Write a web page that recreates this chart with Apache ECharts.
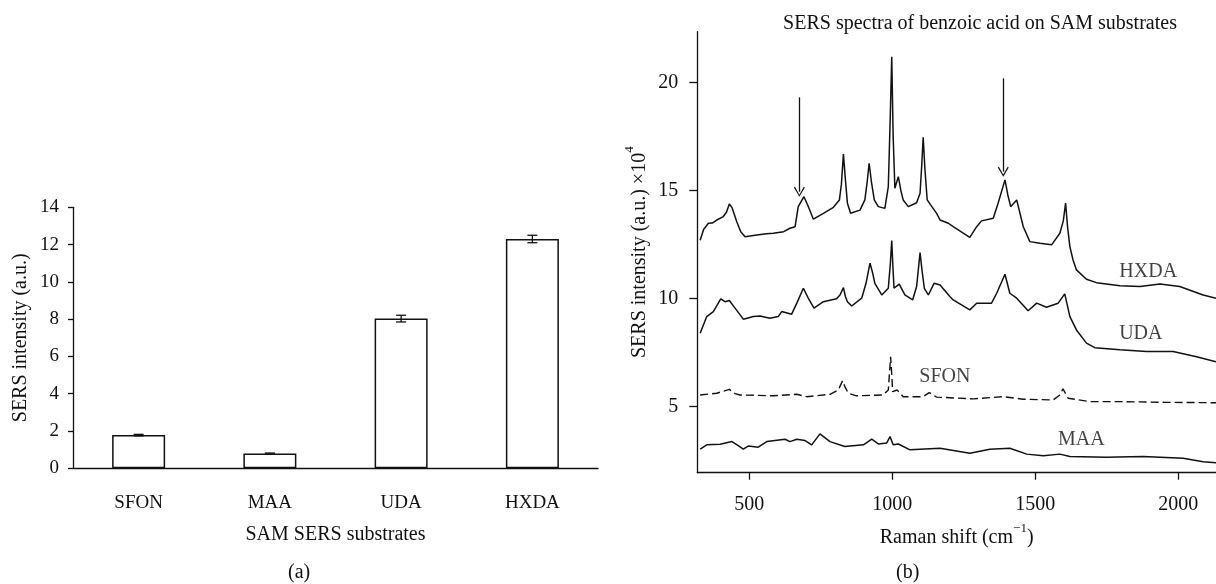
<!DOCTYPE html>
<html><head><meta charset="utf-8">
<script src="https://cdn.jsdelivr.net/npm/echarts@6/dist/echarts.min.js"></script>
<style>html,body{margin:0;padding:0;background:#fff}#c{width:1216px;height:584px}</style>
</head><body><div id="c"></div>
<script>
// ---------- panel (a): bar chart ----------
const substrates = ['SFON', 'MAA', 'UDA', 'HXDA'];
const barValues = [1.78, 0.79, 8.03, 12.3];
const barErrors = [0.04, 0.03, 0.18, 0.2];

// ---------- panel (b): SERS spectra [Raman shift, intensity x10^4] ----------
const hxdaSpectrum = [[328,12.7],[340,13.2],[357,13.49],[370,13.5],[386,13.64],[409,13.8],[420,14.0],[430,14.38],[440,14.2],[456,13.56],[470,13.1],[485,12.87],[526,12.95],[560,13.0],[584,13.03],[620,13.1],[642,13.26],[660,13.33],[671,14.26],[691,14.72],[705,14.3],[724,13.68],[759,13.95],[794,14.23],[815,14.57],[822,15.3],[829,16.69],[836,15.5],[843,14.42],[854,13.95],[887,14.1],[904,14.57],[912,15.4],[919,16.27],[927,15.4],[937,14.57],[951,14.26],[974,14.18],[986,15.19],[993,18.5],[998,21.2],[1003,17.5],[1009,15.11],[1021,15.65],[1030,15.0],[1038,14.57],[1056,14.26],[1085,14.44],[1097,14.88],[1103,16.2],[1108,17.47],[1114,16.0],[1122,14.57],[1134,14.34],[1155,13.95],[1167,13.64],[1196,13.49],[1213,13.33],[1240,13.1],[1271,12.84],[1295,13.33],[1312,13.6],[1353,13.72],[1370,14.42],[1394,15.5],[1404,14.8],[1414,14.26],[1435,14.57],[1458,13.33],[1481,12.64],[1516,12.56],[1557,12.49],[1586,13.03],[1598,13.6],[1606,14.42],[1613,13.3],[1621,12.41],[1632,11.79],[1644,11.33],[1679,10.9],[1714,10.74],[1796,10.6],[1866,10.56],[1936,10.68],[2005,10.56],[2087,10.17],[2132,10.02]];
const udaSpectrum = [[328,8.4],[351,9.17],[374,9.4],[392,9.8],[400,9.99],[415,9.86],[430,9.91],[450,9.56],[479,9.05],[514,9.17],[537,9.2],[572,9.09],[601,9.17],[613,9.4],[648,9.28],[666,9.79],[689,10.48],[706,10.02],[726,9.56],[759,9.86],[805,9.99],[817,10.17],[829,10.51],[836,10.1],[843,9.86],[858,9.66],[893,10.02],[908,10.71],[922,11.64],[931,11.2],[939,10.71],[963,10.17],[986,10.48],[993,11.6],[998,12.69],[1002,11.5],[1006,10.48],[1024,10.67],[1044,10.17],[1071,9.94],[1085,10.56],[1097,12.13],[1104,11.3],[1112,10.48],[1126,10.17],[1146,10.71],[1167,10.63],[1202,10.09],[1213,9.94],[1271,9.48],[1295,9.79],[1347,9.79],[1365,10.25],[1394,11.13],[1411,10.25],[1435,10.02],[1475,9.44],[1505,9.79],[1539,9.6],[1580,9.79],[1603,10.22],[1612,9.7],[1621,9.17],[1644,8.55],[1679,7.94],[1708,7.73],[1796,7.63],[1889,7.55],[1982,7.55],[2064,7.31],[2132,7.08]];
const sfonSpectrum = [[328,5.54],[386,5.62],[430,5.8],[450,5.6],[467,5.54],[584,5.5],[666,5.57],[701,5.46],[782,5.57],[811,5.77],[826,6.2],[835,5.9],[846,5.62],[875,5.5],[968,5.54],[986,5.77],[994,7.31],[998,6.5],[1001,5.69],[1017,5.77],[1038,5.46],[1108,5.46],[1129,5.65],[1155,5.44],[1283,5.36],[1388,5.46],[1458,5.34],[1563,5.31],[1586,5.54],[1597,5.82],[1615,5.39],[1691,5.23],[1807,5.23],[1950,5.2],[2132,5.18]];
const maaSpectrum = [[328,3.03],[351,3.23],[398,3.26],[439,3.38],[460,3.2],[479,3.03],[497,3.18],[531,3.12],[561,3.38],[625,3.49],[642,3.38],[666,3.49],[695,3.43],[718,3.23],[747,3.74],[782,3.38],[834,3.15],[899,3.23],[928,3.49],[951,3.27],[980,3.31],[992,3.61],[1003,3.23],[1021,3.27],[1062,3.0],[1167,3.07],[1271,2.84],[1341,3.03],[1411,3.07],[1470,2.8],[1528,2.72],[1586,2.8],[1621,2.69],[1749,2.66],[1877,2.69],[2017,2.61],[2087,2.45],[2132,2.4]];
const curveLabels = [[1895,11.25,'HXDA'],[1869,8.37,'UDA'],[1184,6.37,'SFON'],[1661,3.46,'MAA']];
const arrows = [[675,19.32,14.95],[1388,20.2,15.88]];
const spectrumXTicks = [500, 1000, 1500, 2000];
const spectrumYTicks = [5, 10, 15, 20];

const FONT = 'Liberation Serif';
const INK = '#111';
const chart = echarts.init(document.getElementById('c'), null, {renderer: 'canvas'});
const chevron = 'path://M0,10 L5,0 L10,10 L9,10.8 L5,2.2 L1,10.8 Z';
const supRich = {
  n: {fontFamily: FONT, fontSize: 20, color: INK, lineHeight: 26, verticalAlign: 'bottom'},
  s: {fontFamily: FONT, fontSize: 13, color: INK, lineHeight: 14, verticalAlign: 'top'}
};

chart.setOption({
  animation: false,
  backgroundColor: '#fff',
  textStyle: {fontFamily: FONT, color: INK},
  title: {
    text: 'SERS spectra of benzoic acid on SAM substrates',
    left: 975, top: 9, textAlign: 'center',
    textStyle: {fontFamily: FONT, fontSize: 20, fontWeight: 'normal', color: INK}
  },
  graphic: [
    {type: 'text', left: 288, top: 563, style: {text: '(a)', font: '20px "Liberation Serif"', fill: INK}},
    {type: 'text', left: 896, top: 563, style: {text: '(b)', font: '20px "Liberation Serif"', fill: INK}}
  ],
  grid: [
    {left: 73, right: 618, top: 207.3, bottom: 115.7},
    {left: 697.3, right: 0, top: 31.7, bottom: 111.3}
  ],
  xAxis: [
    {
      type: 'category', gridIndex: 0, data: substrates,
      name: 'SAM SERS substrates', nameLocation: 'middle', nameGap: 56,
      nameTextStyle: {fontFamily: FONT, fontSize: 20, color: INK},
      axisLine: {lineStyle: {color: INK, width: 1.3}},
      axisTick: {length: 7, lineStyle: {color: INK, width: 1.3}},
      axisLabel: {fontFamily: FONT, fontSize: 19, color: INK, margin: 25}
    },
    {
      type: 'value', gridIndex: 1, min: 318, max: 2132,
      name: '{n|Raman shift (cm}{s|\u22121}{n|)}', nameLocation: 'middle', nameGap: 49,
      nameTextStyle: {fontFamily: FONT, fontSize: 20, color: INK, rich: supRich},
      splitLine: {show: false},
      axisLine: {lineStyle: {color: INK, width: 1.3}},
      axisTick: {length: 7, customValues: spectrumXTicks, lineStyle: {color: INK, width: 1.3}},
      axisLabel: {fontFamily: FONT, fontSize: 20, color: INK, margin: 22, customValues: spectrumXTicks,
        formatter: v => String(v)}
    }
  ],
  yAxis: [
    {
      type: 'value', gridIndex: 0, min: 0, max: 14, interval: 2,
      name: 'SERS intensity (a.u.)', nameLocation: 'middle', nameGap: 42,
      nameTextStyle: {fontFamily: FONT, fontSize: 20, color: INK},
      splitLine: {show: false},
      axisLine: {show: true, lineStyle: {color: INK, width: 1.3}},
      axisTick: {show: true, length: 5, lineStyle: {color: INK, width: 1.3}},
      axisLabel: {fontFamily: FONT, fontSize: 19, color: INK, margin: 14}
    },
    {
      type: 'value', gridIndex: 1, min: 1.94, max: 22.36,
      name: '{n|SERS intensity (a.u.) \u00D710}{s|4}', nameLocation: 'middle', nameGap: 48,
      nameTextStyle: {fontFamily: FONT, fontSize: 20, color: INK, rich: supRich},
      splitLine: {show: false},
      axisLine: {show: true, lineStyle: {color: INK, width: 1.3}},
      axisTick: {show: true, length: 8, customValues: spectrumYTicks, lineStyle: {color: INK, width: 1.3}},
      axisLabel: {fontFamily: FONT, fontSize: 20, color: INK, margin: 19, customValues: spectrumYTicks,
        formatter: v => String(v)}
    }
  ],
  series: [
    {
      type: 'bar', xAxisIndex: 0, yAxisIndex: 0, data: barValues, barWidth: 53, z: 2,
      itemStyle: {color: '#fff', borderColor: INK, borderWidth: 1.5}, silent: true
    },
    {
      type: 'custom', xAxisIndex: 0, yAxisIndex: 0, silent: true, z: 5,
      data: barValues.map((v, i) => [i, v - barErrors[i], v + barErrors[i]]),
      renderItem: (params, api) => {
        const lo = api.coord([api.value(0), api.value(1)]);
        const hi = api.coord([api.value(0), api.value(2)]);
        const hw = 5;
        const st = {stroke: INK, lineWidth: 1.3};
        return {type: 'group', children: [
          {type: 'line', shape: {x1: hi[0], y1: hi[1], x2: lo[0], y2: lo[1]}, style: st},
          {type: 'line', shape: {x1: hi[0]-hw, y1: hi[1], x2: hi[0]+hw, y2: hi[1]}, style: st},
          {type: 'line', shape: {x1: lo[0]-hw, y1: lo[1], x2: lo[0]+hw, y2: lo[1]}, style: st}
        ]};
      }
    },
    {
      name: 'HXDA', type: 'line', xAxisIndex: 1, yAxisIndex: 1, data: hxdaSpectrum,
      showSymbol: false, silent: true, lineStyle: {color: INK, width: 1.5},
      markLine: {
        silent: true, symbol: ['none', chevron], symbolSize: [11, 10],
        lineStyle: {color: INK, width: 1.3, type: 'solid'}, label: {show: false},
        data: arrows.map(a => [{coord: [a[0], a[1]]}, {coord: [a[0], a[2]]}])
      }
    },
    {name: 'UDA', type: 'line', xAxisIndex: 1, yAxisIndex: 1, data: udaSpectrum,
      showSymbol: false, silent: true, lineStyle: {color: INK, width: 1.5}},
    {name: 'SFON', type: 'line', xAxisIndex: 1, yAxisIndex: 1, data: sfonSpectrum,
      showSymbol: false, silent: true, lineStyle: {color: INK, width: 1.4, type: [8, 4]}},
    {name: 'MAA', type: 'line', xAxisIndex: 1, yAxisIndex: 1, data: maaSpectrum,
      showSymbol: false, silent: true, lineStyle: {color: INK, width: 1.5}},
    {
      type: 'scatter', xAxisIndex: 1, yAxisIndex: 1, data: curveLabels, symbolSize: 0, silent: true,
      label: {show: true, position: 'inside', formatter: p => p.data[2],
        fontFamily: FONT, fontSize: 20, color: INK}
    }
  ]
});
</script>
</body></html>
